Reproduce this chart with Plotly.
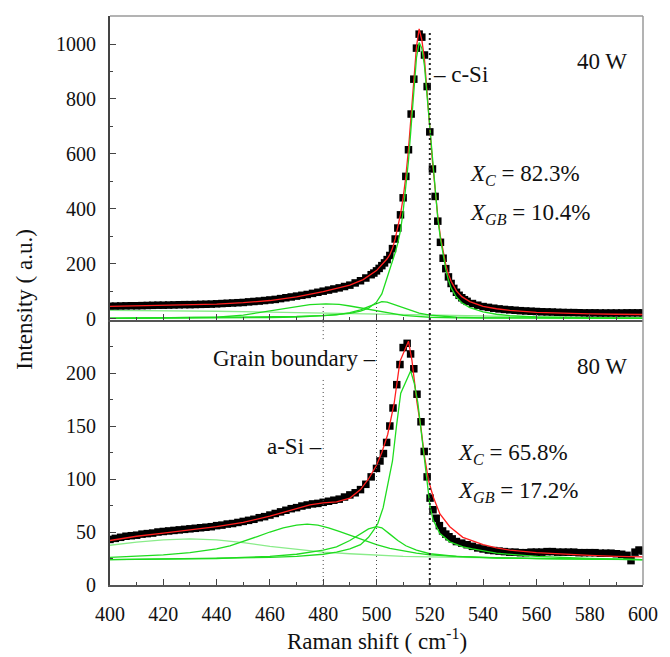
import plotly.graph_objects as go

# ---------------- 40 W (top panel) ----------------
top_x = [400,402,404,406,408,410,412,414,416,418,420,422,424,426,428,430,432,434,436,438,
         440,442,444,446,448,450,452,454,456,458,460,462,464,466,468,470,472,474,476,478,
         480,482,484,486,488,490,492,494,496,498,
         499,500,501,502,503,504,505,506,507,508,509,510,511,512,513,514,515,516,517,518,
         519,520,521,522,523,524,525,526,527,528,529,530,531,532,533,534,
         536,538,540,542,544,546,548,550,552,554,556,558,560,562,564,566,568,570,572,574,
         576,578,580,582,584,586,588,590,592,594,596,598,600]
top_y = [45,45.5,46,46.5,47,47,47.5,48,48.5,49,49,49.5,50,50.5,51,51,51.5,52,52.5,53,
         54,55,56,57,58,59,61,62.5,64,66,68,70,73,76,79,82,85,88,92,96,
         100,104,108,112,117,122,130,138,148,160,
         166,174,183,193,203,215,230,255,290,330,378,440,518,615,745,872,985,1036,1025,960,
         845,680,545,445,355,278,220,182,152,128,110,96,85,76,69,63,
         55,49,44,41,38,35.5,33.5,32,30.5,29,28,27,26,25,24.5,24,23,22.5,22,22,
         21.5,21,21,21,20.5,20.5,20.5,20.5,20.5,21,21,21,21]

top_fit_x = [400,420,440,450,460,470,480,490,495,500,502,504,505,506,507,508,509,510,511,512,
             513,514,515,516,517,518,519,520,521,522,523,524,525,526,527,528,530,532,535,540,
             545,550,560,570,580,590,600]
top_fit_y = [45,48,53,58,66,79,98,122,142,175,195,218,233,256,290,330,380,440,517,617,
             742,870,990,1055,1015,945,835,695,572,462,372,298,240,196,162,136,101,80,62,45,
             36,30,23,19,17,16,15]

top_csi_x = [400,420,440,460,470,480,485,490,494,497,500,502,504,505,506,507,508,509,510,511,
             512,513,514,515,516,517,518,519,520,521,522,523,524,525,526,527,528,530,532,535,
             540,545,550,560,570,585,600]
top_csi_y = [2,3,4,6,8,11,14,19,27,38,60,90,150,180,205,240,275,320,390,480,
             575,700,830,950,1005,985,920,810,690,560,450,365,290,230,180,140,112,78,58,40,
             25,16,11,6,4,3,2]

top_gb_x = [400,440,460,470,480,485,490,494,497,500,502,504,507,510,513,516,520,525,530,540,560,600]
top_gb_y = [1,2,4,6,10,14,22,32,44,56,62,60,50,38,28,20,13,8,5,3,2,1]

top_asi_x = [400,430,440,450,460,470,475,481,486,490,495,500,505,510,515,520,530,560,600]
top_asi_y = [1,3,5,13,28,45,51,54,52,46,37,28,19,12,8,5,3,1,1]

top_bg_x = [400,420,440,460,480,500,520,540,560,580,600]
top_bg_y = [30,29,27,24,20,16,12,8,6,4,3]

# ---------------- 80 W (bottom panel) ----------------
bot_x = [400,402,404,406,408,410,412,414,416,418,420,422,424,426,428,430,432,434,436,438,
         440,442,444,446,448,450,452,454,456,458,460,462,464,466,468,470,472,474,476,478,
         480,482,484,486,488,490,492,494,496,498,
         500,501.3,502.6,503.8,505.0,506.2,507.6,508.8,510.0,511.5,512.8,514.0,515.2,516.7,517.9,
         519.0,520.1,521.2,522.4,523.6,524.8,526.0,527.2,528.4,530,
         532,534,536,538,540,542,544,546,548,550,552,554,556,558,560,562,564,566,568,570,
         572,574,576,578,580,582,584,586,588,590,592,594,
         595.5,597,598.5,600]
bot_y = [43,44,45,46,46.5,47,48,48.5,49,50,50.5,51,51.5,52,52.5,53,53.5,54,54.5,55,
         56,56.5,57.5,58,59,60,61,62,63.5,64.5,66,67.5,69,70.5,72,73,74.5,75.5,76.5,77,
         78,79,80,81,83,85,87,90,95,102,
         110,117,124,134.5,150,167,189,208,224,228,218,204,180,154,126,
         102,82,71,63,56,51,48,45.5,43.5,41,
         39.5,38,36.5,35,34,33,32.5,32,31.5,31,31,30.5,30.5,31,31,31,31.5,31.5,31,31,
         31,31,30.5,30.5,30.5,30.5,30,30,30,29.5,29,28,
         23,31,33,32]

bot_fit_x = [400,410,420,430,440,450,460,470,475,480,485,490,494,497,500,502,504.2,506.6,508.8,512,
             513.3,514,515.2,516.7,517.9,519.5,521.3,523.8,527.5,532.4,536,540,545,550,560,
             570,580,590,600]
bot_fit_y = [42,46,49,52,55,59,65,72,75.5,77.5,78.5,82,90,100,113,125,142,171,211,230,
             212,197,172,148,123,99,83,67,55,45,42,38,35,33,30.5,
             29,28,27,26.5]

bot_csi_x = [400,440,460,470,480,485,490,494,497,499,500.5,502.5,504,506,507.5,509.1,512.8,514.2,515.5,516.5,
             517.6,519,520.1,521.3,523.8,527.5,532.4,536,545,560,580,600]
bot_csi_y = [24,25,26,27,29,31,34,38,45,52,58,73,92,117,150,181,202,190,172,150,
             124,95,74,61,48.5,40.7,36,34,30,27,25,24]

bot_gb_x = [400,440,460,470,480,485,490,494,497,500,502,505,508,511,515,520,525,530,540,560,600]
bot_gb_y = [24,25,27,29,33,36,42,48,53,55,54,48,42,37,33,29.5,28,27,26,25,24]

bot_asi_x = [400,410,420,430,440,445,450,455,460,465,470,474,478,482,486,490,495,500,505,510,
             515,520,530,545,570,600]
bot_asi_y = [26,27,28.5,30.5,34,37,41,45.5,50,54,56.5,57.5,56.5,54,50.5,47,42,38,34.5,32,
             30,28.5,27,25.5,24.5,24]

bot_bg_x = [400,410,420,430,440,450,460,470,480,490,500,510,520,540,570,600]
bot_bg_y = [37.5,40.5,42.5,43.5,42.5,40,36.5,33.5,31,29.5,28,27,26.5,25.5,24.5,24]

# ticks
x_major = [400,420,440,460,480,500,520,540,560,580,600]
x_minor = [410,430,450,470,490,510,530,550,570,590]
top_major = [0,200,400,600,800,1000]
top_minor = [100,300,500,700,900]
bot_major = [0,50,100,150,200]
bot_minor = [25,75,125,175,225]

GREEN = '#1fdc1f'
LIGHT = '#8aec8a'
RED = '#ff1e1e'
FONT = '"Liberation Serif", Tinos, "Times New Roman", Times, "DejaVu Serif", serif'

fig = go.Figure()

def panel(xa, ya, dx, dy, fx, fy, comps):
    fig.add_trace(go.Scatter(x=dx, y=dy, mode='markers', xaxis=xa, yaxis=ya,
                             marker=dict(symbol='square', size=7.5, color='black', line=dict(width=0)),
                             hoverinfo='skip'))
    fig.add_trace(go.Scatter(x=fx, y=fy, mode='lines', xaxis=xa, yaxis=ya,
                             line=dict(color=RED, width=1.3), hoverinfo='skip'))
    for cx, cy, col in comps:
        fig.add_trace(go.Scatter(x=cx, y=cy, mode='lines', xaxis=xa, yaxis=ya,
                                 line=dict(color=col, width=1.3), hoverinfo='skip'))

panel('x2', 'y2', top_x, top_y, top_fit_x, top_fit_y,
      [(top_bg_x, top_bg_y, LIGHT), (top_asi_x, top_asi_y, GREEN),
       (top_gb_x, top_gb_y, GREEN), (top_csi_x, top_csi_y, GREEN)])
panel('x', 'y', bot_x, bot_y, bot_fit_x, bot_fit_y,
      [(bot_bg_x, bot_bg_y, LIGHT), (bot_asi_x, bot_asi_y, GREEN),
       (bot_gb_x, bot_gb_y, GREEN), (bot_csi_x, bot_csi_y, GREEN)])

BOT_TOP = 0.4657
tickc = '#444'

def xax(anchor, labels):
    return dict(anchor=anchor, domain=[0, 1], range=[400, 600], tickvals=x_major,
                showticklabels=labels, ticks='inside', ticklen=6, tickwidth=1.3, tickcolor=tickc,
                minor=dict(ticks='inside', ticklen=3, tickvals=x_minor, tickwidth=1.3, tickcolor=tickc),
                showline=True, linecolor='#555', linewidth=2.2, showgrid=False, zeroline=False,
                ticklabelstandoff=10, tickfont=dict(size=20, color='#111', family=FONT))

def yax(anchor, dom, rng, major, minor):
    return dict(anchor=anchor, domain=dom, range=rng, tickvals=major,
                ticks='inside', ticklen=6, tickwidth=1.3, tickcolor=tickc,
                minor=dict(ticks='inside', ticklen=3, tickvals=minor, tickwidth=1.3, tickcolor=tickc),
                showline=True, linecolor='#444', linewidth=2, showgrid=False, zeroline=False,
                ticklabelstandoff=8, tickfont=dict(size=20, color='#111', family=FONT))

fig.update_layout(
    width=670, height=657, margin=dict(l=110, r=16, t=16, b=72),
    paper_bgcolor='white', plot_bgcolor='white', showlegend=False,
    font=dict(family=FONT, size=20, color='#111'),
    xaxis=xax('y', True),
    xaxis2=xax('y2', False),
    yaxis=yax('x', [0, BOT_TOP], [0, 250], bot_major, bot_minor),
    yaxis2=yax('x2', [BOT_TOP, 1], [-5, 1102], top_major, top_minor),
)

shapes = [
    dict(type='line', xref='paper', yref='paper', x0=0, x1=1, y0=1, y1=1,
         line=dict(color='#9a9a9a', width=1.5)),
    dict(type='line', xref='paper', yref='paper', x0=1, x1=1, y0=0, y1=1,
         line=dict(color='#9a9a9a', width=1.5)),
]
thin = dict(color='#444', width=1, dash='1px,3px')
thick = dict(color='#222', width=2, dash='2px,3px')
shapes += [
    dict(type='line', xref='x2', yref='y2', x0=480, x1=480, y0=-5, y1=50, line=thin),
    dict(type='line', xref='x', yref='y', x0=480, x1=480, y0=232, y1=250, line=thin),
    dict(type='line', xref='x', yref='y', x0=480, x1=480, y0=0, y1=194, line=thin),
    dict(type='line', xref='x2', yref='y2', x0=500, x1=500, y0=-5, y1=62, line=thin),
    dict(type='line', xref='x', yref='y', x0=500, x1=500, y0=0, y1=250, line=thin),
    dict(type='line', xref='x2', yref='y2', x0=520, x1=520, y0=-5, y1=1050, line=thick),
    dict(type='line', xref='x', yref='y', x0=520, x1=520, y0=0, y1=250, line=thick),
]
fig.update_layout(shapes=shapes)

AF = dict(family=FONT, size=23, color='#111')
ann = [
    dict(xref='x2', yref='y2', x=584.5, y=938, text='40 W', showarrow=False, font=AF,
         xanchor='center', yanchor='middle'),
    dict(xref='x2', yref='y2', x=520.6, y=890, text='– c-Si', showarrow=False, font=AF,
         xanchor='left', yanchor='middle'),
    dict(xref='x2', yref='y2', x=534.3, y=523, text='<i>X</i><sub><i>C</i></sub> = 82.3%',
         showarrow=False, font=AF, xanchor='left', yanchor='middle'),
    dict(xref='x2', yref='y2', x=534.3, y=381, text='<i>X</i><sub><i>GB</i></sub> = 10.4%',
         showarrow=False, font=AF, xanchor='left', yanchor='middle'),
    dict(xref='x', yref='y', x=584.5, y=206, text='80 W', showarrow=False, font=AF,
         xanchor='center', yanchor='middle'),
    dict(xref='x', yref='y', x=500.5, y=214, text='Grain boundary –', showarrow=False, font=AF,
         xanchor='right', yanchor='middle'),
    dict(xref='x', yref='y', x=480.3, y=131, text='a-Si –', showarrow=False, font=AF,
         xanchor='right', yanchor='middle'),
    dict(xref='x', yref='y', x=530, y=124, text='<i>X</i><sub><i>C</i></sub> = 65.8%',
         showarrow=False, font=AF, xanchor='left', yanchor='middle'),
    dict(xref='x', yref='y', x=530, y=88, text='<i>X</i><sub><i>GB</i></sub> = 17.2%',
         showarrow=False, font=AF, xanchor='left', yanchor='middle'),
    dict(xref='paper', yref='paper', x=-0.162, y=0.5026, text='Intensity ( a.u.)',
         textangle=-90, showarrow=False, font=AF, xanchor='center', yanchor='middle'),
    dict(xref='paper', yref='paper', x=0.5, y=-0.095, text='Raman shift ( cm<sup>-1</sup>)',
         showarrow=False, font=AF, xanchor='center', yanchor='middle'),
]
fig.update_layout(annotations=ann)

fig.write_html('out.html', config={'displayModeBar': False},
               post_script="document.documentElement.style.margin='0';"
                           "document.body.style.margin='0';"
                           "document.body.style.overflow='hidden';")
